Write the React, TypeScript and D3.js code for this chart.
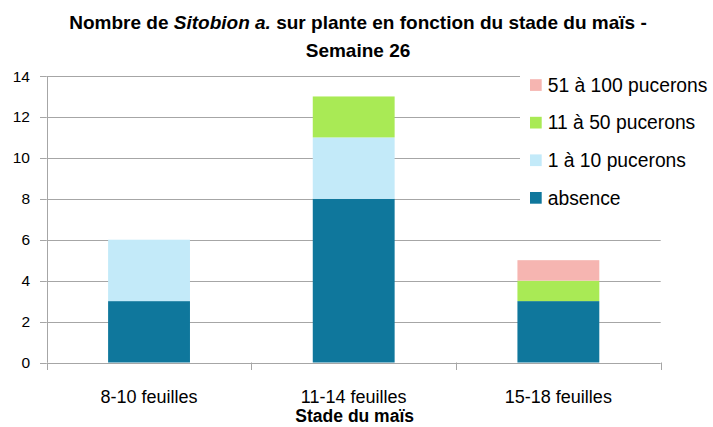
import React from "react";
import * as d3 from "d3";

const categories = ["8-10 feuilles", "11-14 feuilles", "15-18 feuilles"];
const seriesNames = ["absence", "1 à 10 pucerons", "11 à 50 pucerons", "51 à 100 pucerons"];
const absence = [3, 8, 3];
const p1to10 = [3, 3, 0];
const p11to50 = [0, 2, 1];
const p51to100 = [0, 0, 1];
const colors = ["#0F779C", "#C3EAF9", "#A9EA55", "#F6B5B1"];
const yTicks = [0, 2, 4, 6, 8, 10, 12, 14];

const W = 713;
const H = 427;
const left = 46.7;
const right = 660.7;
const top = 76;
const bottom = 362.5;
const FONT = "'Liberation Sans', Arial, sans-serif";

export default function App() {
  const seriesValues = [absence, p1to10, p11to50, p51to100];
  const rows = categories.map((c, i) => {
    const r: any = { cat: c };
    seriesNames.forEach((s, k) => (r[s] = seriesValues[k][i]));
    return r;
  });
  const stack = d3.stack<any>().keys(seriesNames)(rows);

  const x = d3.scaleBand().domain(categories).range([left, right]).paddingInner(0.6).paddingOuter(0.3);
  const y = d3.scaleLinear().domain([0, 14]).range([bottom, top]);
  const step = (right - left) / categories.length;
  const boundaries = d3.range(categories.length + 1).map((i) => left + i * step);

  return (
    <svg width={W} height={H} style={{ position: "absolute", left: 0, top: 0, background: "#fff" }} fontFamily={FONT}>
      <rect width={W} height={H} fill="#fff" />
      {/* title */}
      <text x={358} y={29} textAnchor="middle" fontSize={19} fontWeight="bold" fill="#000">
        Nombre de <tspan fontStyle="italic">Sitobion a.</tspan> sur plante en fonction du stade du maïs -
      </text>
      <text x={358} y={57} textAnchor="middle" fontSize={19} fontWeight="bold" fill="#000">
        Semaine 26
      </text>
      {/* gridlines */}
      {yTicks.filter((t) => t > 0).map((t) => (
        <line key={t} x1={left} x2={right} y1={Math.round(y(t)) + 0.5} y2={Math.round(y(t)) + 0.5} stroke="#A6A6A6" strokeWidth={1} />
      ))}
      {/* y axis */}
      <line x1={Math.round(left) + 0.5} x2={Math.round(left) + 0.5} y1={top} y2={bottom} stroke="#A6A6A6" />
      {yTicks.map((t) => (
        <g key={t}>
          <line x1={40} x2={left} y1={Math.round(y(t)) + 0.5} y2={Math.round(y(t)) + 0.5} stroke="#A6A6A6" />
          <text x={30} y={y(t) + 5.5} textAnchor="end" fontSize={15.5} fill="#000">{t}</text>
        </g>
      ))}
      {/* bars */}
      {stack.map((s, k) => (
        <g key={s.key} fill={colors[k]}>
          {s.map((d, i) =>
            d[1] - d[0] > 0 ? (
              <rect key={i} x={x(categories[i])} width={x.bandwidth()} y={y(d[1])} height={y(d[0]) - y(d[1])} />
            ) : null
          )}
        </g>
      ))}
      {/* x axis */}
      <line x1={left} x2={right} y1={Math.round(bottom) + 0.5} y2={Math.round(bottom) + 0.5} stroke="#A6A6A6" />
      {boundaries.map((b, i) => (
        <line key={i} x1={Math.round(b) + 0.5} x2={Math.round(b) + 0.5} y1={bottom} y2={370} stroke="#A6A6A6" />
      ))}
      {categories.map((c) => (
        <text key={c} x={(x(c) as number) + x.bandwidth() / 2} y={402.5} textAnchor="middle" fontSize={18} fill="#000">{c}</text>
      ))}
      <text x={left + (right - left) / 2 + 1} y={422} textAnchor="middle" fontSize={17.5} fontWeight="bold" fill="#000">Stade du maïs</text>
      {/* legend */}
      <rect x={520} y={66} width={193} height={158} fill="#fff" />
      {seriesNames.slice().reverse().map((s, j) => {
        const k = seriesNames.length - 1 - j;
        const cy = 85 + j * 37.6;
        return (
          <g key={s}>
            <rect x={530} y={cy - 5.8} width={11.7} height={11.7} fill={colors[k]} />
            <text x={547.7} y={cy + 6.8} fontSize={19.3} fill="#000">{s}</text>
          </g>
        );
      })}
    </svg>
  );
}
